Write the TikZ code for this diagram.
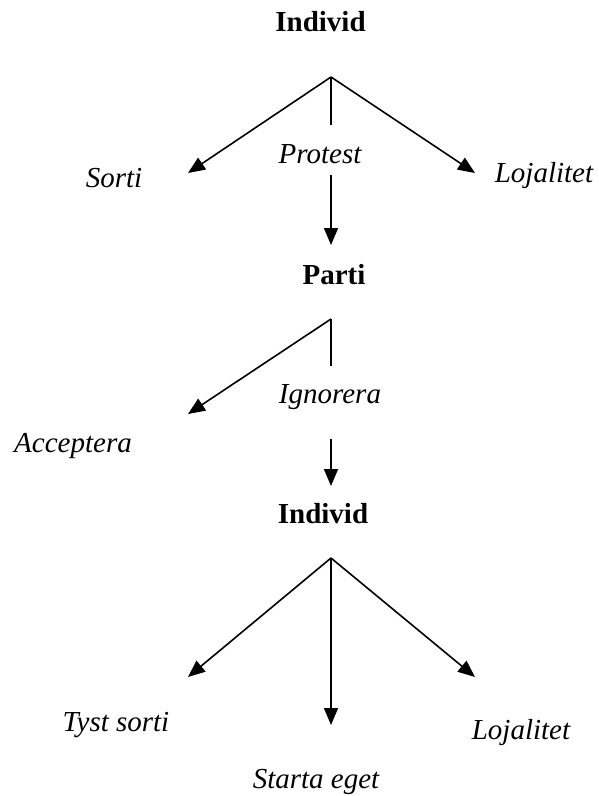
\documentclass[tikz,border=0pt]{standalone}
\usepackage{fontspec}
\setmainfont{Liberation Serif}
\usetikzlibrary{arrows.meta}
\begin{document}
\begin{tikzpicture}[x=1pt, y=-1pt,
    head/.style={anchor=base, inner sep=0pt, font=\fontsize{29}{34}\selectfont\bfseries},
    choice/.style={anchor=base, inner sep=0pt, font=\fontsize{29}{34}\selectfont\itshape},
    line width=1.6pt, >={Triangle[length=17pt, width=14pt]}]
    \useasboundingbox (0,0) rectangle (598,796);

    % Individ
    \node[head] (ind1) at (320.5,31) {Individ};
    \coordinate (a1) at (331,77);
    \coordinate (s1) at (188,173);
    \coordinate (l1) at (475,173);
    \coordinate (p1) at (331,125);
    \coordinate (p2) at (331,175);
    \coordinate (p3) at (331,245);
    \node[choice] (sorti) at (114,187) {Sorti};
    \node[choice] (protest) at (320,163) {Protest};
    \node[choice] (loj1) at (544,182) {Lojalitet};
    \draw[->] (a1) -- (s1);
    \draw[->] (a1) -- (l1);
    \draw (a1) -- (p1);
    \draw[->] (p2) -- (p3);

    % Parti
    \node[head] (parti) at (334,284) {Parti};
    \coordinate (a2) at (331,319);
    \coordinate (c1) at (188,414);
    \coordinate (g1) at (331,366);
    \coordinate (g2) at (331,439);
    \coordinate (g3) at (331,486);
    \node[choice] (acc) at (73,452) {Acceptera};
    \node[choice] (ign) at (330,403) {Ignorera};
    \draw[->] (a2) -- (c1);
    \draw (a2) -- (g1);
    \draw[->] (g2) -- (g3);

    % Individ
    \node[head] (ind2) at (323,523) {Individ};
    \coordinate (a3) at (331,558);
    \coordinate (t1) at (188,677);
    \coordinate (e1) at (331,725);
    \coordinate (l2) at (475,677);
    \node[choice] (tyst) at (116,731) {Tyst sorti};
    \node[choice] (eget) at (316,788) {Starta eget};
    \node[choice] (loj2) at (521,739) {Lojalitet};
    \draw[->] (a3) -- (t1);
    \draw[->] (a3) -- (e1);
    \draw[->] (a3) -- (l2);
\end{tikzpicture}
\end{document}
